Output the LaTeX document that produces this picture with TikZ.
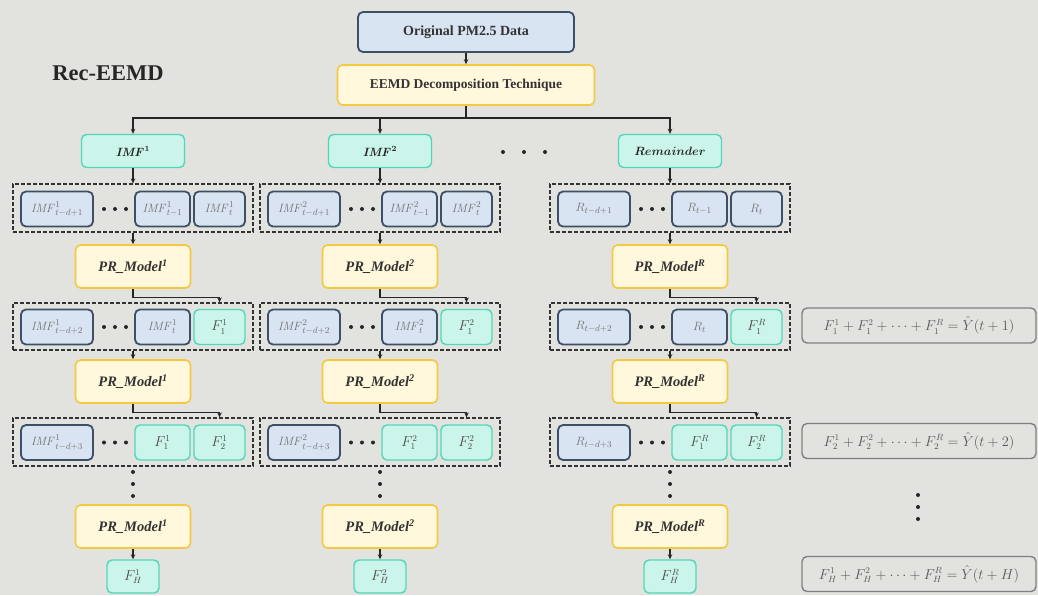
\documentclass[tikz,border=0pt]{standalone}
\usepackage{amsmath}
\usepackage[no-math]{fontspec}
\setmainfont{Liberation Serif}
\usetikzlibrary{arrows.meta,calc}

\definecolor{bg}{HTML}{E2E3DE}
\definecolor{slate}{HTML}{3E5068}
\definecolor{paleblue}{HTML}{D8E4F2}
\definecolor{mintline}{HTML}{52D6B9}
\definecolor{mintfill}{HTML}{CBF4EA}
\definecolor{goldline}{HTML}{F5C842}
\definecolor{cream}{HTML}{FFF8DC}

\tikzset{
  base/.style={rounded corners=5pt, inner sep=0pt, align=center},
  bluebox/.style={base, draw=slate, fill=paleblue, line width=1.8pt},
  mintbox/.style={base, draw=mintline, fill=mintfill, line width=1.4pt},
  goldbox/.style={base, draw=goldline, fill=cream, line width=1.6pt},
  grp/.style={draw=black!80, line width=1.2pt, dash pattern=on 4pt off 2pt,
    minimum width=240pt, minimum height=48pt, inner sep=0pt},
  eqbox/.style={base, draw=black!50, line width=1.4pt, minimum width=234pt,
    minimum height=35pt, text=black!65, font=\fontsize{13.5}{15}\selectfont},
  arr/.style={-{Stealth[length=5pt,width=4.5pt]}, line width=1.1pt, draw=black!85},
  dotc/.style={fill=black!85},
  serieslbl/.style={text=black!55, font=\fontsize{13}{15}\selectfont},
  flbl/.style={text=black!70, font=\fontsize{13.5}{15}\selectfont},
  headtext/.style={text=black!85, font=\fontsize{12}{14}\selectfont},
  modeltext/.style={text=black!80, font=\fontsize{14.5}{16}\selectfont\bfseries\itshape},
}

% series labels for the sliding windows
\newcommand{\imfseries}[2]{\mathit{IMF}^{#1}_{#2}}
\newcommand{\remseries}[2]{R_{#2}}

% one decomposition branch: #1 tag, #2 centre x, #3 index, #4 head label, #5 series macro
\newcommand{\drawbranch}[5]{%
  \node[mintbox, headtext, minimum width=103pt, minimum height=33pt] (#1-head) at (#2,151) {#4};
  % first window
  \node[grp] (#1-g1) at (#2,208) {};
  \node[bluebox, serieslbl, minimum width=72pt, minimum height=35pt] (#1-a1) at ({#2-76},209) {$#5{#3}{t-d+1}$};
  \node[bluebox, serieslbl, minimum width=55pt, minimum height=35pt] (#1-b1) at ({#2+29.5},209) {$#5{#3}{t-1}$};
  \node[bluebox, serieslbl, minimum width=51pt, minimum height=35pt] (#1-c1) at ({#2+86.5},209) {$#5{#3}{t}$};
  \foreach \dx in {-29,-18,-7} \fill[dotc] ({#2+\dx},209) circle (2pt);
  \node[goldbox, modeltext, minimum width=115pt, minimum height=43pt] (#1-m1) at (#2,266.5) {PR\_Model\textsuperscript{#3}};
  % second window
  \node[grp, minimum height=47pt] (#1-g2) at (#2,326.5) {};
  \node[bluebox, serieslbl, minimum width=72pt, minimum height=35pt] (#1-a2) at ({#2-76},327) {$#5{#3}{t-d+2}$};
  \node[bluebox, serieslbl, minimum width=55pt, minimum height=35pt] (#1-b2) at ({#2+29.5},327) {$#5{#3}{t}$};
  \node[mintbox, flbl, minimum width=51pt, minimum height=35pt] (#1-c2) at ({#2+86.5},327) {$F^{#3}_{1}$};
  \foreach \dx in {-29,-18,-7} \fill[dotc] ({#2+\dx},327) circle (2pt);
  \node[goldbox, modeltext, minimum width=115pt, minimum height=43pt] (#1-m2) at (#2,381.5) {PR\_Model\textsuperscript{#3}};
  % third window
  \node[grp] (#1-g3) at (#2,442) {};
  \node[bluebox, serieslbl, minimum width=72pt, minimum height=35pt] (#1-a3) at ({#2-76},442.5) {$#5{#3}{t-d+3}$};
  \node[mintbox, flbl, minimum width=55pt, minimum height=35pt] (#1-b3) at ({#2+29.5},442.5) {$F^{#3}_{1}$};
  \node[mintbox, flbl, minimum width=51pt, minimum height=35pt] (#1-c3) at ({#2+86.5},442.5) {$F^{#3}_{2}$};
  \foreach \dx in {-29,-18,-7} \fill[dotc] ({#2+\dx},442.5) circle (2pt);
  \foreach \dy in {472,484,496} \fill[dotc] (#2,\dy) circle (2pt);
  \node[goldbox, modeltext, minimum width=115pt, minimum height=43pt] (#1-m3) at (#2,526.5) {PR\_Model\textsuperscript{#3}};
  \node[mintbox, flbl, minimum width=52pt, minimum height=33pt] (#1-fh) at (#2,576.5) {$F^{#3}_{H}$};
  % connectors
  \draw[arr] (#1-head.south) -- (#1-g1.north);
  \draw[arr] (#1-g1.south) -- (#1-m1.north);
  \draw[arr] (#1-m1.south) -- ++(0,9) -| (#1-c2.north |- #1-g2.north);
  \draw[arr] (#1-g2.south) -- (#1-m2.north);
  \draw[arr] (#1-m2.south) -- ++(0,9) -| (#1-c3.north |- #1-g3.north);
  \draw[arr] (#1-m3.south) -- (#1-fh.north);
}

\begin{document}
\begin{tikzpicture}[x=1pt,y=-1pt]
  \fill[bg] (0,0) rectangle (1038,595);
  \useasboundingbox (0,0) rectangle (1038,595);

  \node[font=\fontsize{22.5}{26}\selectfont\bfseries, text=black!85] (title) at (108,73) {Rec-EEMD};

  \node[bluebox, minimum width=216pt, minimum height=40pt, text=black!80,
        font=\fontsize{14}{16}\selectfont\bfseries] (orig) at (466,32) {Original PM2.5 Data};
  \node[goldbox, minimum width=257pt, minimum height=40pt, text=black!80,
        font=\fontsize{13.5}{16}\selectfont\bfseries] (eemd) at (466,85) {EEMD Decomposition Technique};
  \draw[arr] (orig.south) -- (eemd.north);
  \coordinate (split) at (466,118);
  \draw[line width=1.1pt, black!85] (eemd.south) -- (split);

  \drawbranch{a}{133}{1}{$\boldsymbol{\mathit{IMF}^{1}}$}{\imfseries}
  \drawbranch{b}{380}{2}{$\boldsymbol{\mathit{IMF}^{2}}$}{\imfseries}
  \drawbranch{c}{670}{R}{$\boldsymbol{Remainder}$}{\remseries}

  \foreach \t in {a,b,c} \draw[arr] (split) -| (\t-head.north);

  % further components between the branches
  \foreach \x in {503,524,545} \fill[dotc] (\x,152) circle (2pt);

  % aggregated forecasts
  \node[eqbox] (eq1) at (919,325.5) {$F^{1}_{1}+F^{2}_{1}+\cdots+F^{R}_{1}=\hat{Y}(t+1)$};
  \node[eqbox] (eq2) at (919,441) {$F^{1}_{2}+F^{2}_{2}+\cdots+F^{R}_{2}=\hat{Y}(t+2)$};
  \node[eqbox] (eq3) at (919,574) {$F^{1}_{H}+F^{2}_{H}+\cdots+F^{R}_{H}=\hat{Y}(t+H)$};
  \foreach \dy in {495,507,519} \fill[dotc] (918,\dy) circle (2pt);
\end{tikzpicture}
\end{document}
